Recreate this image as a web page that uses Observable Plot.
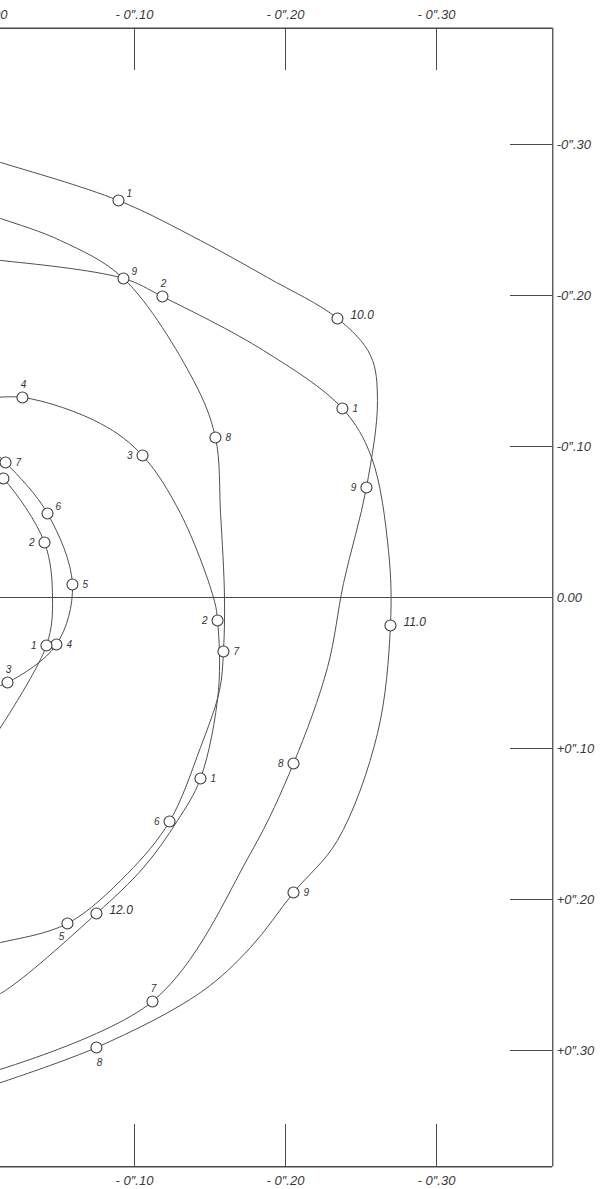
<!DOCTYPE html>
<html>
<head>
<meta charset="utf-8">
<script src="https://cdn.jsdelivr.net/npm/d3@7"></script>
<script src="https://cdn.jsdelivr.net/npm/@observablehq/plot@0.6"></script>
<style>
  html, body { margin: 0; padding: 0; background: #fff; }
  #chart svg { display: block; }
</style>
</head>
<body>
<div id="chart"></div>
<script>
// ---- axis values (seconds of arc) ----
const frameEdge = 0.377;
const tickLength = 0.028;
const xTicks = [-0.10, -0.20, -0.30];
const xTickLabels = ["- 0\u2033.10", "- 0\u2033.20", "- 0\u2033.30"];
const yTicks = [-0.30, -0.20, -0.10, 0.00, 0.10, 0.20, 0.30];
const yTickLabels = ["-0\u2033.30", "-0\u2033.20", "-0\u2033.10", "0.00", "+0\u2033.10", "+0\u2033.20", "+0\u2033.30"];

// ---- pole tracks: [x, y, label] (label present => observed position) ----
const track1909 = [
  [0.0086, 0.3185],
  [-0.1119, 0.2675, "7"],
  [-0.1768, 0.1695],
  [-0.2053, 0.1099, "8"],
  [-0.2278, 0.0464],
  [-0.2384, -0.0093],
  [-0.2536, -0.0728, "9"],
  [-0.2609, -0.1305],
  [-0.2563, -0.1603],
  [-0.2344, -0.1848, "10.0"],
  [-0.1881, -0.2119],
  [-0.1437, -0.2364],
  [-0.0894, -0.2629, "1"],
  [-0.0113, -0.2881],
  [0.0086, -0.2940]
];
const track1910 = [
  [0.0086, 0.3278],
  [-0.0748, 0.2980, "8"],
  [-0.1437, 0.2616],
  [-0.1768, 0.2318],
  [-0.2053, 0.1954, "9"],
  [-0.2344, 0.1609],
  [-0.2609, 0.0901],
  [-0.2695, 0.0185, "11.0"],
  [-0.2682, -0.0311],
  [-0.2570, -0.0927],
  [-0.2377, -0.1252, "1"],
  [-0.1854, -0.1636],
  [-0.1185, -0.1993, "2"],
  [-0.0927, -0.2113],
  [-0.0113, -0.2232],
  [0.0086, -0.2245]
];
const track1911 = [
  [0.0086, 0.2325],
  [-0.0113, 0.2285],
  [-0.0556, 0.2159, "5"],
  [-0.0954, 0.1828],
  [-0.1232, 0.1483, "6"],
  [-0.1437, 0.0993],
  [-0.1563, 0.0616],
  [-0.1589, 0.0358, "7"],
  [-0.1596, 0.0000],
  [-0.1570, -0.0556],
  [-0.1536, -0.1060, "8"],
  [-0.1391, -0.1437],
  [-0.0927, -0.2113, "9"],
  [-0.0510, -0.2364],
  [-0.0113, -0.2510],
  [0.0086, -0.2576]
];
const track1912 = [
  [0.0086, 0.2702],
  [-0.0113, 0.2623],
  [-0.0748, 0.2093, "12.0"],
  [-0.1060, 0.1788],
  [-0.1285, 0.1477],
  [-0.1437, 0.1199, "1"],
  [-0.1556, 0.0616],
  [-0.1550, 0.0152, "2"],
  [-0.1523, 0.0000],
  [-0.1305, -0.0556],
  [-0.1053, -0.0940, "3"],
  [-0.0775, -0.1152],
  [-0.0258, -0.1325, "4"],
  [0.0086, -0.1305]
];
const trackInnerA = [
  [0.0053, 0.0629],
  [-0.0159, 0.0563, "3"],
  [-0.0483, 0.0311, "4"],
  [-0.0589, -0.0086, "5"],
  [-0.0424, -0.0556, "6"],
  [-0.0146, -0.0894, "7"],
  [0.0020, -0.1040]
];
const trackInnerB = [
  [-0.0013, 0.1013],
  [-0.0417, 0.0318, "1"],
  [-0.0457, 0.0000],
  [-0.0404, -0.0364, "2"],
  [-0.0132, -0.0788, ""],
  [0.0020, -0.0907]
];

// label side for each observed point, in track order (layout only)
const sides = [
  [track1909, ["a", "l", "l", "yr", "ur"]],
  [track1910, ["b", "r", "yr", "r", "a"]],
  [track1911, ["bl", "l", "r", "r", "ur"]],
  [track1912, ["yr", "r", "l", "l", "a"]],
  [trackInnerA, ["a", "r", "r", "ur", "r"]],
  [trackInnerB, ["l", "l", "l"]]
];
const placement = {
  r:  {dx: 10, dy: 0, textAnchor: "start"},
  yr: {dx: 13, dy: -3, textAnchor: "start"},
  l:  {dx: -10, dy: 0, textAnchor: "end"},
  a:  {dx: 1, dy: -13, textAnchor: "middle"},
  b:  {dx: 3, dy: 15, textAnchor: "middle"},
  ur: {dx: 8, dy: -7, textAnchor: "start"},
  bl: {dx: -6, dy: 13, textAnchor: "middle"}
};

const tracks = [track1909, track1910, track1911, track1912, trackInnerA, trackInnerB];
const observed = [];
for (const [tr, s] of sides) {
  tr.filter(d => d.length > 2).forEach((d, i) => observed.push({x: d[0], y: d[1], label: d[2], side: s[i]}));
}

const ink = "#4a4a4a";
const font = "Liberation Sans, Arial, sans-serif";
const W = 602, H = 1189;
// pixel frame of the scanned plate: 0 on x sits 17px left of the page, 1" = 1510px
const k = 1510, x0 = -17, y0 = 597;

const marks = [];
// frame and zero line
marks.push(Plot.ruleY([-frameEdge, frameEdge], {x1: 0.05, x2: -frameEdge, stroke: ink, strokeWidth: 1.3}));
marks.push(Plot.ruleX([-frameEdge], {y1: -frameEdge, y2: frameEdge, stroke: ink, strokeWidth: 1.3}));
marks.push(Plot.ruleY([0], {x1: 0.05, x2: -frameEdge, stroke: ink, strokeWidth: 1.2}));
// ticks
marks.push(Plot.ruleX(xTicks, {y1: -frameEdge, y2: -frameEdge + tickLength, stroke: ink, strokeWidth: 1}));
marks.push(Plot.ruleX(xTicks, {y1: frameEdge - tickLength, y2: frameEdge, stroke: ink, strokeWidth: 1}));
marks.push(Plot.ruleY(yTicks.filter(v => v !== 0), {x1: -frameEdge + tickLength, x2: -frameEdge, stroke: ink, strokeWidth: 1}));
// tick labels
const tickText = {fill: "#3a3a3a", fontFamily: font, fontStyle: "italic", fontSize: 13};
marks.push(Plot.text(xTicks, {x: d => d, y: () => -0.3861, text: (d, i) => xTickLabels[i], ...tickText}));
marks.push(Plot.text(xTicks, {x: d => d, y: () => 0.3861, text: (d, i) => xTickLabels[i], ...tickText}));
marks.push(Plot.text(["0.00"], {x: () => 0, y: () => -0.3861, text: d => d, textAnchor: "end", dx: 24, ...tickText}));
marks.push(Plot.text(yTicks, {x: () => -frameEdge, y: d => d, text: (d, i) => yTickLabels[i], textAnchor: "start", dx: 4, ...tickText}));
// tracks
for (const tr of tracks) {
  marks.push(Plot.line(tr, {x: d => d[0], y: d => d[1], curve: "catmull-rom", stroke: "#505050", strokeWidth: 1}));
}
marks.push(Plot.dot(observed, {x: "x", y: "y", r: 5.5, fill: "white", stroke: "#3c3c3c", strokeWidth: 1.1}));
for (const [key, p] of Object.entries(placement)) {
  marks.push(Plot.text(observed.filter(o => o.side === key && o.label), {
    x: "x", y: "y", text: "label", dx: p.dx, dy: p.dy, textAnchor: p.textAnchor,
    fontSize: o => o.label.includes(".") ? 12 : 10,
    fill: "#333", fontFamily: font, fontStyle: "italic"
  }));
}

const chart = Plot.plot({
  width: W, height: H,
  marginTop: 0, marginRight: 0, marginBottom: 0, marginLeft: 0,
  x: {domain: [-(0 - x0) / k, -(W - x0) / k], range: [0, W], axis: null},
  y: {domain: [(0 - y0) / k, (H - y0) / k], range: [0, H], axis: null},
  style: {background: "white"},
  marks
});
document.getElementById("chart").appendChild(chart);
</script>
</body>
</html>
